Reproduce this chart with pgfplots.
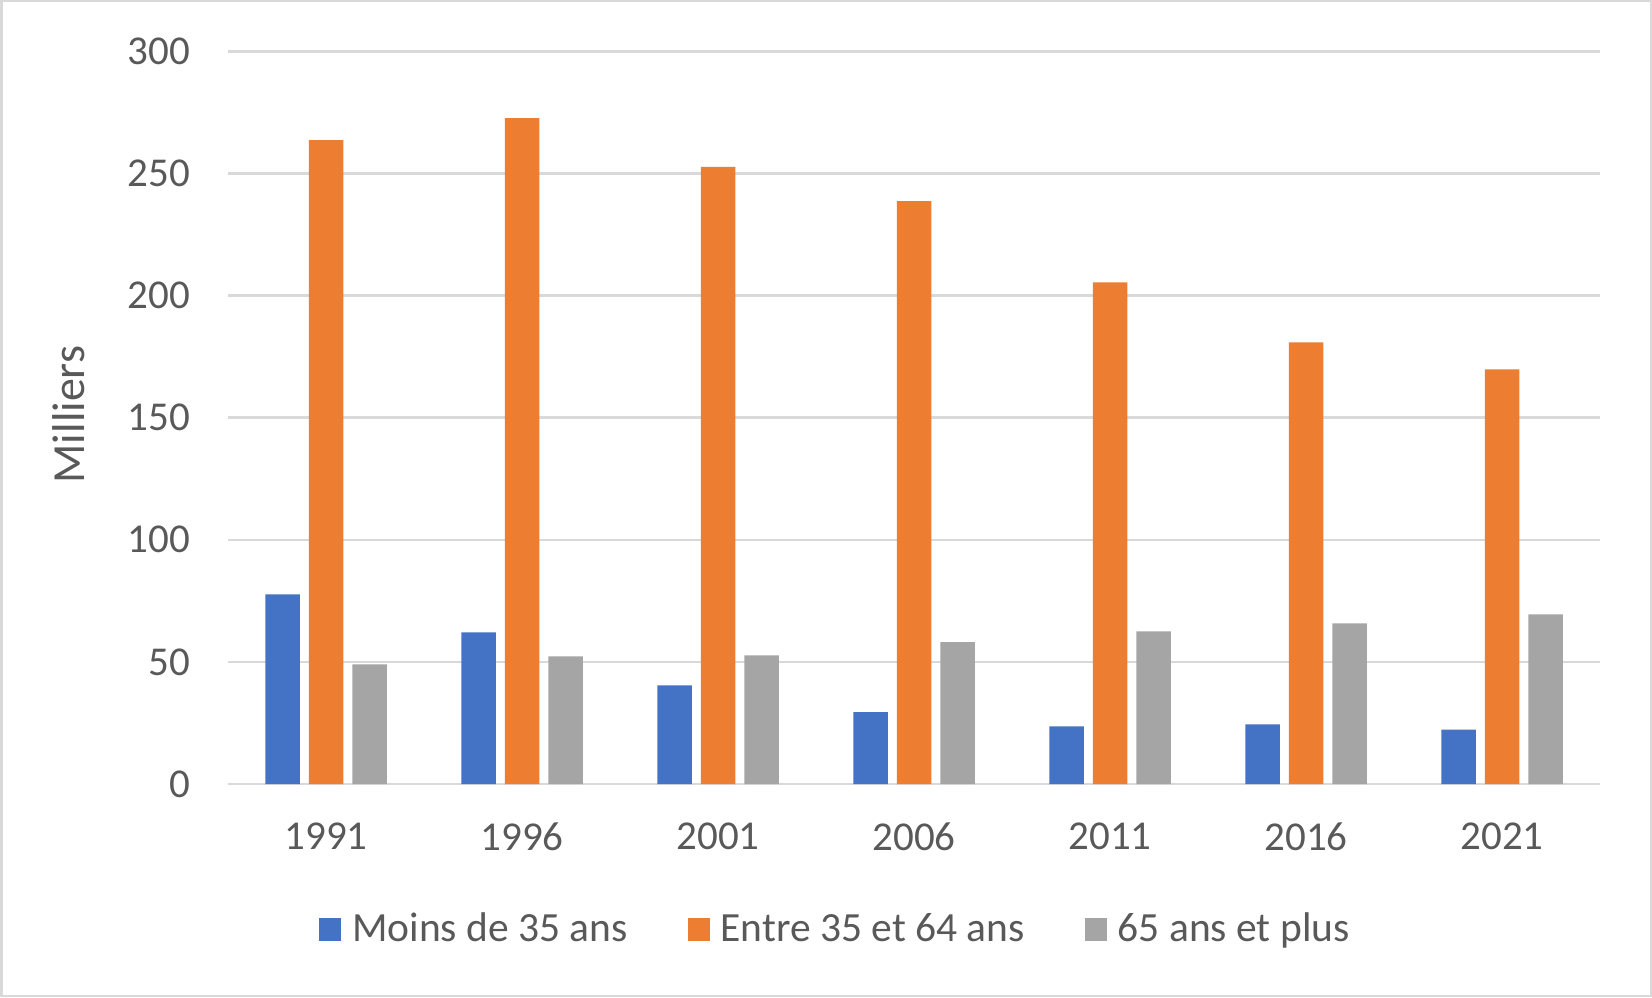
\documentclass[border=0pt]{standalone}
\usepackage{pgfplots}
\pgfplotsset{compat=1.18}
\usepackage{fontspec}
\setmainfont{Carlito}
\definecolor{txt}{HTML}{595959}
\definecolor{gridc}{HTML}{D9D9D9}
\definecolor{cblue}{HTML}{4472C4}
\definecolor{corange}{HTML}{ED7D31}
\definecolor{cgray}{HTML}{A5A5A5}
\begin{document}
\begin{tikzpicture}
\begin{axis}[
  at={(228pt,213pt)}, anchor=south west,
  scale only axis, width=1372pt, height=732.5pt,
  xmin=-0.5, xmax=6.5, ymin=0, ymax=300,
  xtick={0,...,6},
  xticklabels={1991,1996,2001,2006,2011,2016,2021},
  ytick={0,50,...,300},
  /pgf/number format/assume math mode=true,
  ymajorgrids, grid style={gridc, line width=2.5pt},
  axis line style={draw=none},
  major tick length=0pt,
  ybar, bar width=34.5pt,
  yticklabel style={anchor=east, inner sep=0pt, xshift=-38pt, font=\fontsize{41}{49}\selectfont, text=txt},
  xticklabel style={anchor=north, inner sep=0pt, yshift=-39pt, font=\fontsize{41}{49}\selectfont, text=txt},
  ylabel={Milliers},
  ylabel style={at={(axis description cs:-0.1159,0.5044)}, anchor=center, font=\fontsize{46}{54}\selectfont, text=txt},
  legend columns=3,
  legend cell align=left,
  legend style={at={(0.442,-0.2014)}, anchor=center, draw=none, fill=none, inner sep=0pt, outer sep=0pt,
    font=\fontsize{41.5}{50}\selectfont, text=txt,
    /tikz/every odd column/.append style={column sep=11pt},
    /tikz/every even column/.append style={column sep=60pt},
    nodes={inner sep=0pt, text height=28pt, text depth=9pt, anchor=west}},
  legend image code/.code={\fill[#1] (0pt,-9.5pt) rectangle (22pt,13.5pt);},
]
\addplot[fill=cblue, draw=none, bar shift=-43.5pt] coordinates {
  (0,77.7) (1,62.1) (2,40.4) (3,29.4) (4,23.6) (5,24.4) (6,22.3)};
\addplot[fill=corange, draw=none, bar shift=0pt] coordinates {
  (0,263.7) (1,272.7) (2,252.7) (3,238.7) (4,205.4) (5,180.9) (6,169.8)};
\addplot[fill=cgray, draw=none, bar shift=43.5pt] coordinates {
  (0,49.0) (1,52.3) (2,52.7) (3,58.1) (4,62.5) (5,65.8) (6,69.5)};
\legend{Moins de 35 ans, Entre 35 et 64 ans, 65 ans et plus}
\end{axis}
\draw[gridc, line width=2.5pt] (1.25pt,1.25pt) rectangle (1650.75pt,995.75pt);
\pgfresetboundingbox
\useasboundingbox (0,0) rectangle (1652pt,997pt);
\end{tikzpicture}
\end{document}
